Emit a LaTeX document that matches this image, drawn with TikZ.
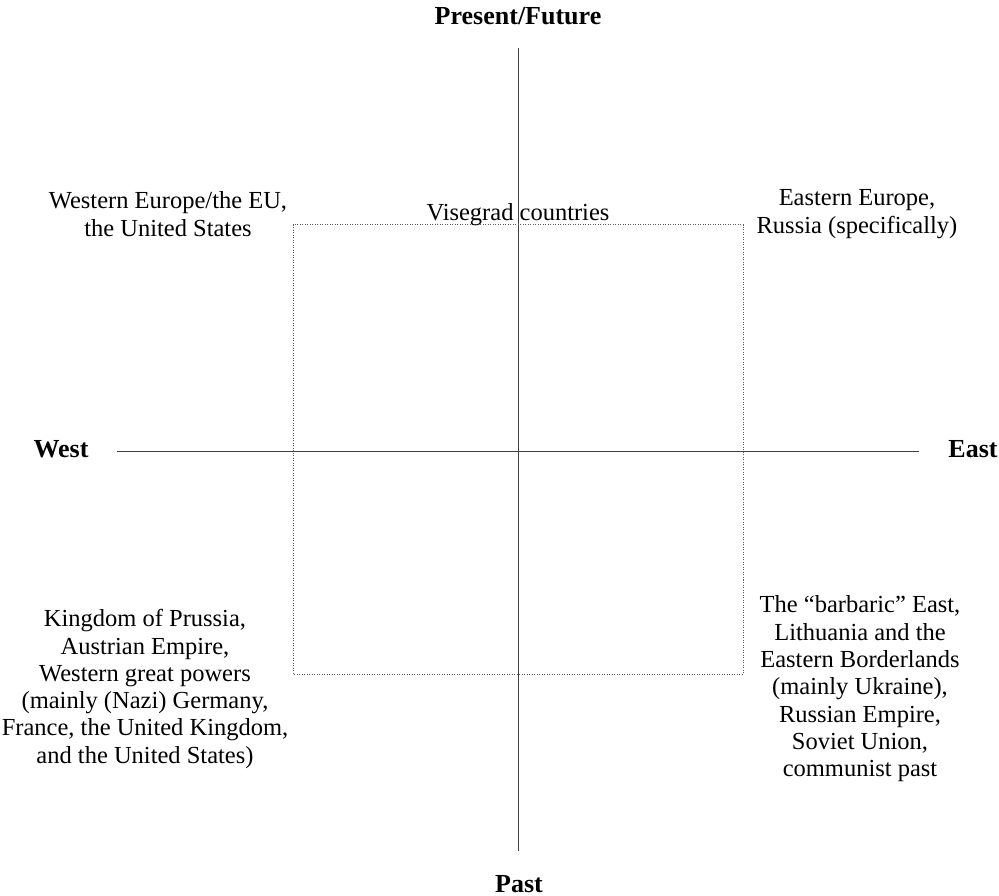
\documentclass[tikz,border=0pt]{standalone}
\usepackage{fontspec}
\setmainfont{Liberation Serif}
\begin{document}
\begin{tikzpicture}[x=1pt,y=-1pt,
  axis/.style={draw=black!75,line width=0.9pt},
  zone/.style={draw=black!65,line width=1pt,dash pattern=on 1pt off 1.5pt},
  pole/.style={font=\fontsize{26}{28}\selectfont\bfseries,inner sep=0pt},
  region/.style={font=\fontsize{24.5}{27.3}\selectfont,align=center,inner sep=0pt}]
\useasboundingbox (0,0) rectangle (999,896);
% axes
\coordinate (top) at (518,48);
\coordinate (bottom) at (518,851);
\coordinate (left) at (117,451);
\coordinate (right) at (919,451);
\draw[axis] (top) -- (bottom);
\draw[axis] (left) -- (right);
% Visegrad zone
\coordinate (zoneNW) at (293,225);
\coordinate (zoneSE) at (743,674);
\draw[zone] (zoneNW) rectangle (zoneSE);
% poles
\node[pole,anchor=base] (future) at (518,25) {Present/Future};
\node[pole,anchor=base] (past) at (519,892) {Past};
\node[pole,anchor=base] (west) at (61,457) {West};
\node[pole,anchor=base] (east) at (973,457) {East};
% regions
\node[region] (visegrad) at (518,215) {Visegrad countries};
\node[region] (nw) at (168,214) {Western Europe/the EU,\\the United States};
\node[region] (ne) at (857,214) {Eastern Europe,\\Russia (specifically)};
\node[region] (sw) at (145,689) {Kingdom of Prussia,\\Austrian Empire,\\Western great powers\\(mainly (Nazi) Germany,\\France, the United Kingdom,\\and the United States)};
\node[region] (se) at (860,689) {The “barbaric” East,\\Lithuania and the\\Eastern Borderlands\\(mainly Ukraine),\\Russian Empire,\\Soviet Union,\\communist past};
\end{tikzpicture}
\end{document}
